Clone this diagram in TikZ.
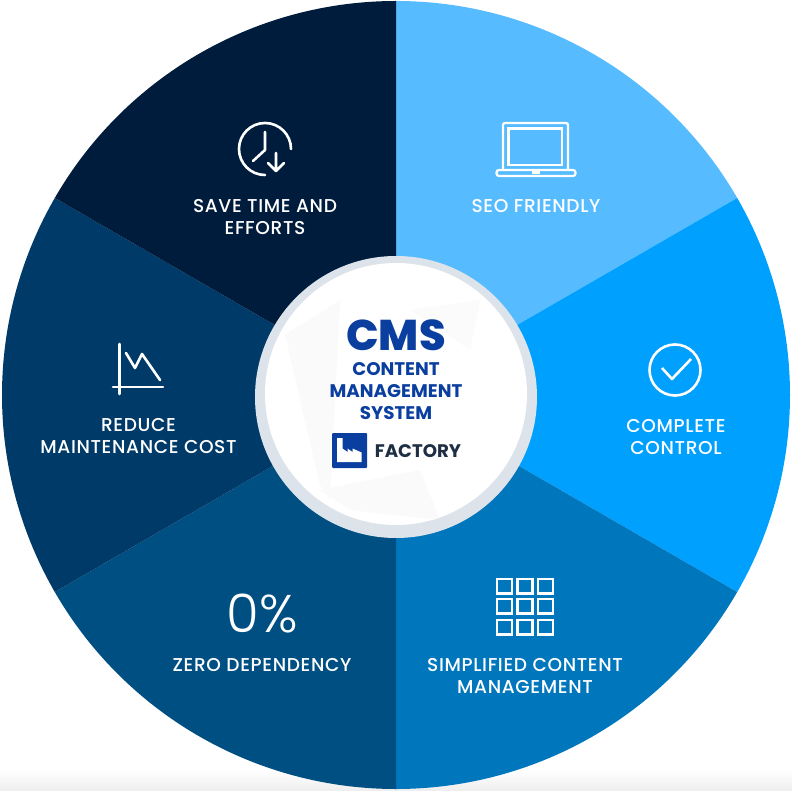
\documentclass[tikz,border=0pt]{standalone}
\usepackage{fontspec}
\setmainfont{Poppins}
\newfontfamily\lightf{Poppins Light}
\newfontfamily\medf{Poppins Medium}
\newfontfamily\heavyf{Poppins ExtraBold}
\usetikzlibrary{calc}
\definecolor{sA}{HTML}{56BBFF}
\definecolor{sB}{HTML}{00A0FF}
\definecolor{sC}{HTML}{0076BD}
\definecolor{sD}{HTML}{004F82}
\definecolor{sE}{HTML}{003A68}
\definecolor{sF}{HTML}{001C3D}
\definecolor{ring}{HTML}{DCE3EA}
\definecolor{cmsblue}{HTML}{0A3FA0}
\definecolor{factext}{HTML}{1E2F45}
\tikzset{
  sector/.style={draw=none},
  lbl/.style={text=white,align=center,font=\medf\fontsize{18.6}{22}\selectfont\addfontfeatures{LetterSpace=3.4},inner sep=0pt},
  icon/.style={draw=white,line width=2.6pt,fill=none},
  title/.style={text=cmsblue,align=center,inner sep=0pt}
}
\begin{document}
\begin{tikzpicture}[x=1pt,y=-1pt]
\useasboundingbox (0,0) rectangle (792,791);
\shade[top color=white,bottom color=black!7] (0,770) rectangle (792,791);
\coordinate (c) at (396,395);
\def\R{394}
\foreach \a/\b/\col in {-90/-30/sA,-30/30/sB,30/90/sC,90/150/sD,150/210/sE,210/270/sF}{
  \fill[sector,\col] (c) -- ($(c)+(\a:\R)$) arc[start angle=\a,end angle=\b,radius=\R] -- cycle;
}
\fill[ring] (396,397) circle[radius=141];
\fill[white] (396,394) circle[radius=131];
\begin{scope}
\clip (396,394) circle[radius=131];
\fill[black!2] (285,335) -- (340,300) -- (330,500) -- (320,485) -- cycle;
\fill[black!1.5] (410,310) -- (480,300) -- (470,350) -- cycle;
\fill[black!2] (320,490) -- (420,470) -- (440,520) -- (350,510) -- cycle;
\end{scope}
\node[title,font=\heavyf\fontsize{43}{43}\selectfont,text height=30pt,text depth=0pt] (cms) at (396,335.5) {CMS};
\node[title,font=\fontsize{18.3}{22.3}\selectfont\bfseries] (cmstext) at (396,391) {CONTENT\\MANAGEMENT\\SYSTEM};
\node[text=factext,font=\fontsize{18.2}{20}\selectfont\bfseries,inner sep=0pt] (factory) at (418,451) {FACTORY};
\node[fill=cmsblue,minimum size=35pt,inner sep=0pt,rounded corners=1pt] (logo) at (349.5,450.5) {};
\fill[white] (337,438) -- (342.5,438) -- (342.5,448.5) -- (347.5,452) -- (347.5,448.5) -- (352.5,452) -- (352.5,448.5) -- (361.5,452.5) -- (361.5,462) -- (337,462) -- cycle;
% labels
\node[lbl] (save) at (265,217.5) {SAVE TIME AND\\EFFORTS};
\node[lbl] (seo) at (536,206.5) {SEO FRIENDLY};
\node[lbl] (ctrl) at (676,437.5) {COMPLETE\\CONTROL};
\node[lbl] (simp) at (525,676.5) {SIMPLIFIED CONTENT\\MANAGEMENT};
\node[lbl] (zero) at (262,665.5) {ZERO DEPENDENCY};
\node[lbl] (reduce) at (138.5,436.5) {REDUCE\\MAINTENANCE COST};
\node[text=white,font=\lightf\fontsize{53}{53}\selectfont,inner sep=0pt] (pct) at (262,614) {0\%};
% clock
\draw[icon,line cap=round] (291,149) arc[start angle=0,end angle=-270,radius=26];
\draw[icon,line cap=round,line join=round] (265,132) -- (265,150) -- (253,161);
\draw[icon,line cap=round,line join=round] (276,153) -- (276,171) (268,163) -- (276,171) -- (284,163);
% laptop
\draw[icon,rounded corners=2pt,line width=2.2pt] (503,170) -- (503,123) -- (568,123) -- (568,170);
\draw[icon,line width=2.2pt] (508.5,128.5) rectangle (562,165);
\draw[icon,rounded corners=2.5pt,line width=2.2pt] (496.5,170) rectangle (575.5,176);
\fill[white] (532,171) rectangle (540,174);
% check
\draw[icon] (675,370) circle[radius=25.5];
\draw[icon,line join=round] (662,368) -- (672,379) -- (691,359);
% chart
\draw[icon,line cap=round] (119.5,344) -- (119.5,394);
\draw[icon,line cap=round] (113,387) -- (163,387);
\draw[icon,line cap=round,line join=round] (126,353) -- (135,368) -- (142,354) -- (160,380);
% grid
\foreach \x in {497,517.5,538}\foreach \y in {579,599,620}{
  \draw[icon,line width=2.4pt] (\x,\y) rectangle ++(15,14.5);
}
\end{tikzpicture}
\end{document}
